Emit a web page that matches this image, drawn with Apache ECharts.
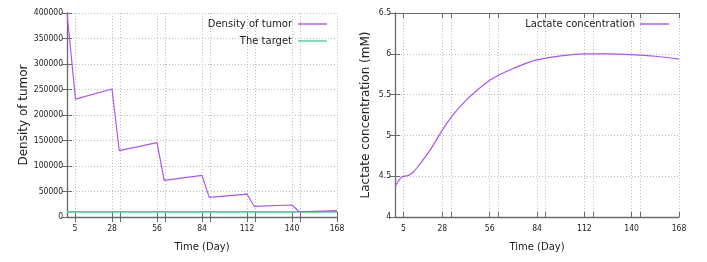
<!DOCTYPE html>
<html><head><meta charset="utf-8">
<script src="https://cdn.jsdelivr.net/npm/echarts@6/dist/echarts.min.js"></script>
<style>html,body{margin:0;padding:0;background:#fff}#c{width:707px;height:262px}</style>
</head><body><div id="c"></div>
<script>
// ---- data ----
const tumorDays   = [0, 5.3, 28, 32.5, 56, 60.5, 84, 88.5, 112, 116.5, 140, 144.5, 168];
const tumorValues = [400000, 231000, 251000, 130000, 146000, 72000, 81500, 38500, 45000, 21000, 23500, 10300, 12500];
const targetDays   = [0, 168];
const targetValues = [10000, 10000];
const lactDays   = [0, 2, 4, 6, 8, 11, 14, 18, 22, 28, 35, 42, 49, 56, 63, 70, 77, 84, 98, 112, 126, 140, 154, 168];
const lactValues = [4.37, 4.44, 4.49, 4.50, 4.51, 4.555, 4.63, 4.74, 4.86, 5.065, 5.27, 5.43, 5.56, 5.675, 5.755, 5.82, 5.88, 5.925, 5.975, 6.0, 6.0, 5.99, 5.97, 5.935];
const xLabelTicks = [5, 28, 56, 84, 112, 140, 168];
const xGridTicks  = [5, 28, 33, 56, 61, 84, 89, 112, 117, 140, 145, 168];
const tumorYTicks = [0, 50000, 100000, 150000, 200000, 250000, 300000, 350000, 400000];
const lactYTicks  = [4, 4.5, 5, 5.5, 6, 6.5];

const pair = (xs, ys) => xs.map((x, i) => [x, ys[i]]);
const PURPLE = '#ae55ea', GREEN = '#55c9a2';
const FONT = 'DejaVu Sans';
const TICKFONT = '"DejaVu Sans Condensed", "DejaVu Sans"';
const AX = '#6a6a6a';
const LINEICON = 'path://M0,0L29,0L29,1.4L0,1.4Z';
const grid = {lineStyle: {type: [1, 2], color: '#bdbdbd', width: 1}};

function xAxes(gi) {
  return [
    {gridIndex: gi, type: 'value', min: 0, max: 168, position: 'bottom',
     name: 'Time (Day)', nameLocation: 'middle', nameGap: 25,
     nameTextStyle: {fontFamily: FONT, fontSize: 10, color: '#222'},
     axisLine: {show: true, lineStyle: {color: AX, width: 1.3}},
     axisTick: {show: true, inside: true, length: 5, customValues: xGridTicks, lineStyle: {color: AX}},
     axisLabel: {customValues: xLabelTicks, fontFamily: TICKFONT, fontSize: 8.5, color: '#222', margin: 7},
     splitLine: Object.assign({show: true}, grid)},
    {gridIndex: gi, type: 'value', min: 0, max: 168, position: 'top',
     axisLine: {show: true, lineStyle: {color: AX, width: 1}},
     axisTick: {show: true, inside: true, length: 5, customValues: xGridTicks, lineStyle: {color: AX}},
     axisLabel: {show: false}, splitLine: {show: false}}
  ];
}
function yAxes(gi, ticks, interval, name, gap) {
  const min = ticks[0], max = ticks[ticks.length - 1];
  return [
    {gridIndex: gi, type: 'value', min: min, max: max, interval: interval, position: 'left',
     name: name, nameLocation: 'middle', nameGap: gap, nameRotate: 90,
     nameTextStyle: {fontFamily: FONT, fontSize: 12, color: '#222'},
     axisLine: {show: true, lineStyle: {color: AX, width: 1.3}},
     axisTick: {show: true, inside: true, length: 5, lineStyle: {color: AX}},
     axisLabel: {fontFamily: TICKFONT, fontSize: 8.5, color: '#222', margin: 4,
                 formatter: v => String(v)},
     splitLine: Object.assign({show: true}, grid)},
    {gridIndex: gi, type: 'value', min: min, max: max, interval: interval, position: 'right',
     axisLine: {show: true, lineStyle: {color: AX, width: 1}},
     axisTick: {show: true, inside: true, length: 5, lineStyle: {color: AX}},
     axisLabel: {show: false}, splitLine: {show: false}}
  ];
}

const chart = echarts.init(document.getElementById('c'), null, {renderer: 'canvas'});
chart.setOption({
  animation: false,
  backgroundColor: '#fff',
  grid: [
    {left: 67, top: 13, width: 270, height: 204},
    {left: 395, top: 13, width: 284, height: 204}
  ],
  xAxis: [...xAxes(0), ...xAxes(1)],
  yAxis: [...yAxes(0, tumorYTicks, 50000, 'Density of tumor', 36),
          ...yAxes(1, lactYTicks, 0.5, 'Lactate concentration (mM)', 23)],
  legend: [
    {data: [{name: 'Density of tumor', icon: LINEICON}, {name: 'The target', icon: LINEICON}],
     orient: 'vertical', align: 'right',
     right: 380, top: 19, padding: 0, itemGap: 7, itemWidth: 29, itemHeight: 1.4,
     textStyle: {fontFamily: FONT, fontSize: 10, color: '#222', lineHeight: 10, padding: [0, 1, 0, 0]}},
    {data: [{name: 'Lactate concentration', icon: LINEICON}], orient: 'vertical', align: 'right',
     right: 38, top: 19, padding: 0, itemWidth: 29, itemHeight: 1.4,
     textStyle: {fontFamily: FONT, fontSize: 10, color: '#222', lineHeight: 10}}
  ],
  series: [
    {name: 'The target', type: 'line', xAxisIndex: 0, yAxisIndex: 0, symbol: 'none',
     data: pair(targetDays, targetValues), lineStyle: {color: GREEN, width: 1.6}, itemStyle: {color: GREEN}, z: 2},
    {name: 'Density of tumor', type: 'line', xAxisIndex: 0, yAxisIndex: 0, symbol: 'none',
     data: pair(tumorDays, tumorValues), lineStyle: {color: PURPLE, width: 1.2}, itemStyle: {color: PURPLE}, z: 3},
    {name: 'Lactate concentration', type: 'line', xAxisIndex: 2, yAxisIndex: 2, symbol: 'none', smooth: 0.3,
     data: pair(lactDays, lactValues), lineStyle: {color: PURPLE, width: 1.2}, itemStyle: {color: PURPLE}}
  ]
});
</script></body></html>
